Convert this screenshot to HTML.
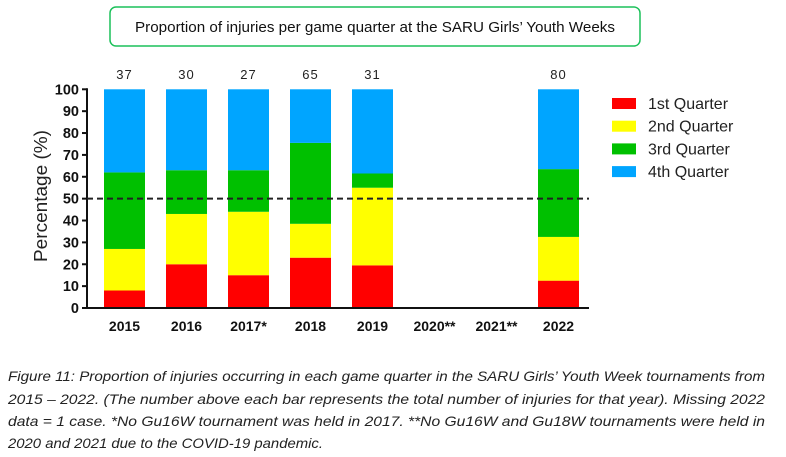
<!DOCTYPE html>
<html><head><meta charset="utf-8"><style>
html,body{margin:0;padding:0;background:#fff;width:786px;height:457px;overflow:hidden}
svg{display:block;font-family:"Liberation Sans",Arial,sans-serif}
</style></head><body>
<svg id="chart" width="786" height="457" viewBox="0 0 786 457" xmlns="http://www.w3.org/2000/svg">
<rect x="110" y="7" width="530" height="39" rx="6" fill="#fff" stroke="#1cc15a" stroke-width="1.5"/>
<text x="375" y="32" text-anchor="middle" font-size="15" textLength="480" lengthAdjust="spacingAndGlyphs" fill="#111">Proportion of injuries per game quarter at the SARU Girls’ Youth Weeks</text>
<text transform="translate(47,196) rotate(-90)" text-anchor="middle" font-size="18" textLength="132" lengthAdjust="spacingAndGlyphs" fill="#222">Percentage (%)</text>
<g id="plot"></g>
<g id="legend"></g>
<g font-style="italic" font-size="14" fill="#222">
<text x="8" y="381" textLength="757" lengthAdjust="spacingAndGlyphs">Figure 11: Proportion of injuries occurring in each game quarter in the SARU Girls’ Youth Week tournaments from</text>
<text x="8" y="404" textLength="757" lengthAdjust="spacingAndGlyphs">2015 – 2022. (The number above each bar represents the total number of injuries for that year). Missing 2022</text>
<text x="8" y="426" textLength="757" lengthAdjust="spacingAndGlyphs">data = 1 case. *No Gu16W tournament was held in 2017. **No Gu16W and Gu18W tournaments were held in</text>
<text x="8" y="448" textLength="315" lengthAdjust="spacingAndGlyphs">2020 and 2021 due to the COVID-19 pandemic.</text>
</g>
</svg>
<script>
const categories = ["2015","2016","2017*","2018","2019","2020**","2021**","2022"];
const totals = ["37","30","27","65","31","","","80"];
const q1 = [8,20,15,23,19.5,null,null,12.5];
const q2 = [19,23,29,15.5,35.5,null,null,20];
const q3 = [35,20,19,37,6.5,null,null,31];
const q4 = [38,37,37,24.5,38.5,null,null,36.5];
const seriesNames = ["1st Quarter","2nd Quarter","3rd Quarter","4th Quarter"];
const yTicks = [0,10,20,30,40,50,60,70,80,90,100];
const refLine = 50;

const NS="http://www.w3.org/2000/svg";
const colors=["#ff0000","#ffff00","#00c000","#00a5ff"];
const y0=308, yTop=89.3, axisX=87, axisEnd=589;
const yScale=v=>y0-(v/100)*(y0-yTop);
const bandStart=104, step=62, barW=41;
const xScale=i=>bandStart+i*step;
const plot=document.getElementById('plot');
function mk(tag,attrs,parent){const e=document.createElementNS(NS,tag);for(const k in attrs)e.setAttribute(k,attrs[k]);(parent||plot).appendChild(e);return e;}
const series=[q1,q2,q3,q4];
categories.forEach((c,i)=>{
  let cum=0;
  series.forEach((s,k)=>{
    const v=s[i]; if(v==null) return;
    const r=mk('rect',{x:xScale(i),y:yScale(cum+v),width:barW,height:yScale(cum)-yScale(cum+v),fill:colors[k]});
    
    
    cum+=v;
  });
  const t=mk('text',{x:xScale(i)+barW/2,y:79,'text-anchor':'middle','font-size':13,'letter-spacing':1,fill:'#222'});
  t.textContent=totals[i];
  
  
  const xl=mk('text',{x:xScale(i)+barW/2,y:331,'text-anchor':'middle','font-size':14,'font-weight':'bold',fill:'#111'});
  xl.textContent=c;
  
  
});
yTicks.forEach(v=>{
  const y=yScale(v);
  const tk=mk('line',{x1:axisX-5,x2:axisX,y1:y,y2:y,stroke:'#111','stroke-width':2});
  
  
  const tl=mk('text',{x:axisX-8,y:y+5,'text-anchor':'end','font-size':14.5,'font-weight':'bold',fill:'#111'});
  tl.textContent=v;
  
  
});
const ya=mk('line',{x1:axisX,x2:axisX,y1:yTop-1,y2:y0+1,stroke:'#111','stroke-width':2});


const xa=mk('line',{x1:axisX-1,x2:axisEnd,y1:y0,y2:y0,stroke:'#111','stroke-width':2});


const rl=mk('line',{x1:axisX,x2:axisEnd,y1:yScale(refLine),y2:yScale(refLine),stroke:'#222','stroke-width':2,'stroke-dasharray':'6,4'});


const lg=document.getElementById('legend');
seriesNames.forEach((n,k)=>{
  const y=98+k*22.7;
  const sw=mk('rect',{x:612,y:y,width:24,height:11,fill:colors[k]},lg);
  
  
  const t=mk('text',{x:648,y:y+11,'font-size':16,fill:'#222'},lg);
  t.textContent=n;
  
  
});
</script>
</body></html>
